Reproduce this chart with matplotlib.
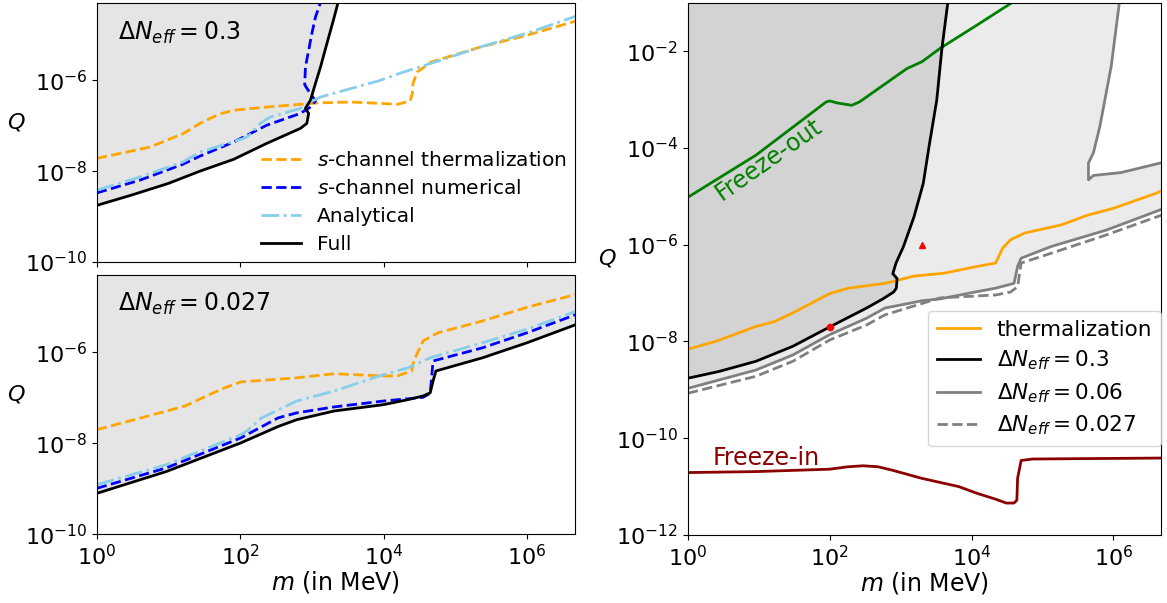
import numpy as np
import matplotlib
matplotlib.use("Agg")
import matplotlib.pyplot as plt
from matplotlib.ticker import LogLocator, NullLocator

# values, as log10(m / MeV) and log10(Q)

# --- top left panel, Delta N_eff = 0.3
tl_full_lm = [0, 0.5, 1.0, 1.44, 1.91, 2.37, 2.84, 2.93, 2.955, 2.91, 2.98, 3.05, 3.12, 3.21, 3.30, 3.38]
tl_full_lq = [-8.755, -8.52, -8.27, -8.0, -7.74, -7.39, -7.06, -6.95, -6.73, -6.62, -6.44, -6.07, -5.71, -5.19, -4.68, -4.2]
tl_num_lm = [0, 0.6, 1.2, 1.44, 1.91, 2.37, 2.84, 3.0, 3.05, 2.98, 2.90, 2.91, 3.0, 3.05, 3.14]
tl_num_lq = [-8.48, -8.2, -7.85, -7.67, -7.36, -6.99, -6.73, -6.57, -6.45, -6.3, -6.1, -5.71, -4.97, -4.61, -4.2]
tl_ana_lm = [0, 0.6, 1.2, 1.44, 2.05, 2.12, 2.28, 2.42, 2.84, 3.03, 3.12, 3.30, 3.96, 4.24, 4.66, 5.35, 6.05, 6.7]
tl_ana_lq = [-8.42, -8.13, -7.8, -7.58, -7.28, -7.22, -6.95, -6.81, -6.62, -6.44, -6.37, -6.29, -6.0, -5.84, -5.63, -5.27, -4.94, -4.58]
tl_th_lm = [0, 0.745, 1.21, 1.44, 1.7, 1.91, 2.37, 2.84, 3.07, 3.54, 3.96, 4.19, 4.37, 4.40, 4.41, 4.47, 4.66, 5.35, 6.0, 6.7]
tl_th_lq = [-7.72, -7.47, -7.17, -6.95, -6.75, -6.66, -6.59, -6.53, -6.50, -6.48, -6.51, -6.53, -6.46, -6.3, -6.07, -5.82, -5.60, -5.27, -5.01, -4.69]

# --- bottom left panel, Delta N_eff = 0.027
bl_full_lm = [0, 0.97, 2.01, 2.27, 2.53, 2.79, 3.31, 4.0, 4.34, 4.55, 4.65, 4.69, 4.73, 5.38, 6.0, 6.7]
bl_full_lq = [-9.10, -8.62, -7.99, -7.81, -7.63, -7.48, -7.29, -7.15, -7.04, -6.96, -6.89, -6.63, -6.41, -6.12, -5.79, -5.38]
bl_num_lm = [0, 0.97, 2.01, 2.27, 2.53, 2.79, 3.31, 4.0, 4.55, 4.65, 4.69, 5.38, 6.0, 6.7]
bl_num_lq = [-8.99, -8.54, -7.88, -7.66, -7.44, -7.33, -7.2, -7.07, -6.99, -6.9, -6.19, -5.90, -5.57, -5.16]
bl_ana_lm = [0, 0.97, 2.01, 2.1, 2.30, 2.79, 3.31, 4.0, 4.34, 4.65, 5.38, 6.0, 6.7]
bl_ana_lq = [-8.91, -8.47, -7.81, -7.72, -7.44, -7.07, -6.85, -6.49, -6.34, -6.12, -5.79, -5.49, -5.09]
bl_th_lm = [0, 0.715, 1.23, 1.49, 1.75, 2.01, 2.79, 3.31, 4.0, 4.19, 4.39, 4.42, 4.55, 4.76, 5.38, 6.0, 6.7]
bl_th_lq = [-7.70, -7.40, -7.18, -6.99, -6.8, -6.65, -6.56, -6.47, -6.52, -6.52, -6.41, -6.19, -5.75, -5.57, -5.31, -5.01, -4.72]

# --- right panel
r_full_lm = [0, 0.44, 0.96, 1.48, 2.0, 2.52, 2.75, 2.9, 2.94, 2.95, 2.89, 2.935, 3.04, 3.19, 3.32, 3.40, 3.51, 3.58, 3.64, 3.67]
r_full_lq = [-8.76, -8.62, -8.41, -8.10, -7.70, -7.31, -7.12, -6.98, -6.9, -6.7, -6.6, -6.38, -6.04, -5.42, -4.73, -3.98, -3.01, -1.98, -1.29, -0.95]
r_th_lm = [0, 0.39, 0.96, 1.22, 1.48, 1.74, 2.0, 2.26, 2.78, 3.19, 3.61, 4.08, 4.34, 4.44, 4.55, 4.75, 5.27, 5.64, 6.0, 6.62, 6.7]
r_th_lq = [-8.16, -8.0, -7.69, -7.59, -7.41, -7.21, -7.01, -6.9, -6.80, -6.65, -6.59, -6.45, -6.38, -6.07, -5.90, -5.76, -5.59, -5.39, -5.25, -4.93, -4.87]
r_n006_lm = [0, 0.96, 1.48, 2.0, 2.52, 2.78, 3.30, 3.56, 4.08, 4.34, 4.60, 4.65, 4.70, 5.12, 5.9, 6.7]
r_n006_lq = [-8.97, -8.59, -8.28, -7.86, -7.52, -7.31, -7.16, -7.12, -6.97, -6.90, -6.80, -6.45, -6.28, -6.04, -5.70, -5.26]
r_n006_up_lm = [6.7, 6.11, 5.72, 5.65, 5.65, 5.72, 5.81, 5.97, 6.09]
r_n006_up_lq = [-4.30, -4.51, -4.57, -4.66, -4.31, -4.10, -3.56, -2.32, -0.95]
r_n0027_lm = [0, 0.96, 1.48, 2.0, 2.52, 2.78, 3.56, 4.34, 4.55, 4.65, 4.70, 5.12, 5.9, 6.7]
r_n0027_lq = [-9.07, -8.72, -8.41, -7.97, -7.66, -7.45, -7.10, -7.04, -6.98, -6.87, -6.38, -6.18, -5.80, -5.38]
r_fo_lm = [0, 0.96, 1.95, 2.0, 2.10, 2.31, 2.42, 3.09, 3.30, 3.56, 4.08, 4.6]
r_fo_lq = [-5.02, -4.15, -3.05, -3.03, -3.07, -3.12, -3.05, -2.36, -2.22, -1.94, -1.46, -0.97]
r_fi_lm = [0, 0.96, 2.0, 2.26, 2.47, 2.68, 2.88, 3.30, 3.82, 4.08, 4.34, 4.49, 4.60, 4.64, 4.65, 4.70, 4.86, 6.7]
r_fi_lq = [-10.71, -10.69, -10.64, -10.59, -10.57, -10.59, -10.66, -10.83, -11.0, -11.14, -11.26, -11.34, -11.34, -11.28, -10.83, -10.46, -10.43, -10.41]
dot_m, dot_q = 100, 2e-8
tri_m, tri_q = 2000, 1e-6

xlim = (1, 4.7e6)
ylim_left = (1e-10, 5e-5)
ylim_right = (1e-12, 1e-1)


def p(lm, lq):
    return 10 ** np.array(lm, dtype=float), 10 ** np.array(lq, dtype=float)


FS = 16
TFS = 17
fig = plt.figure(figsize=(11.67, 6.03), dpi=100)
ax_t = fig.add_axes([0.0829, 0.5655, 0.41, 0.4295])
ax_b = fig.add_axes([0.0829, 0.1139, 0.41, 0.4300])
ax_r = fig.add_axes([0.5895, 0.1128, 0.4053, 0.8827])


def style(ax, ylim, show_x=True):
    ax.set_xscale("log")
    ax.set_yscale("log")
    ax.set_xlim(*xlim)
    ax.set_ylim(*ylim)
    ax.xaxis.set_major_locator(LogLocator(base=100))
    ax.yaxis.set_major_locator(LogLocator(base=100))
    ax.xaxis.set_minor_locator(NullLocator())
    ax.yaxis.set_minor_locator(NullLocator())
    ax.tick_params(labelsize=FS)
    ax.set_ylabel("$Q$", fontsize=FS, rotation=0, labelpad=6)
    if show_x:
        ax.set_xlabel("$m$ (in MeV)", fontsize=FS + 1, labelpad=0)
    else:
        ax.tick_params(labelbottom=False)


# top left
m, q = p(tl_full_lm, tl_full_lq)
ax_t.fill(np.append(m, xlim[0]), np.append(q, ylim_left[1]), color="#e5e5e5", lw=0, zorder=0)
ax_t.plot(*p(tl_th_lm, tl_th_lq), "--", color="orange", lw=2, label="$s$-channel thermalization")
ax_t.plot(*p(tl_num_lm, tl_num_lq), "--", color="blue", lw=2, label="$s$-channel numerical")
ax_t.plot(*p(tl_ana_lm, tl_ana_lq), "-.", color="skyblue", lw=2, label="Analytical")
ax_t.plot(m, q, "-", color="black", lw=2, label="Full")
ax_t.text(0.045, 0.935, r"$\Delta N_{eff} = 0.3$", transform=ax_t.transAxes, fontsize=TFS, va="top")
ax_t.legend(loc="lower right", fontsize=14.5, frameon=False, borderaxespad=0.0, labelspacing=0.45)
style(ax_t, ylim_left, show_x=False)

# bottom left
m, q = p(bl_full_lm, bl_full_lq)
ax_b.fill_between(m, q, ylim_left[1], color="#e5e5e5", lw=0, zorder=0)
ax_b.plot(*p(bl_th_lm, bl_th_lq), "--", color="orange", lw=2)
ax_b.plot(*p(bl_num_lm, bl_num_lq), "--", color="blue", lw=2)
ax_b.plot(*p(bl_ana_lm, bl_ana_lq), "-.", color="skyblue", lw=2)
ax_b.plot(m, q, "-", color="black", lw=2)
ax_b.text(0.045, 0.94, r"$\Delta N_{eff} = 0.027$", transform=ax_b.transAxes, fontsize=TFS, va="top")
style(ax_b, ylim_left)

# right
lo_m, lo_q = p(r_n006_lm, r_n006_lq)
up_m, up_q = p(r_n006_up_lm, r_n006_up_lq)
ax_r.fill(np.concatenate([lo_m, up_m, [xlim[0]]]), np.concatenate([lo_q, up_q, [up_q[-1]]]),
          color="#ebebeb", lw=0, zorder=0)
fm, fq = p(r_full_lm, r_full_lq)
ax_r.fill(np.append(fm, xlim[0]), np.append(fq, fq[-1]), color="#d3d3d3", lw=0, zorder=0)

ax_r.plot(*p(r_fo_lm, r_fo_lq), color="green", lw=2)
ax_r.plot(*p(r_fi_lm, r_fi_lq), color="darkred", lw=2)
ax_r.plot(*p(r_th_lm, r_th_lq), color="orange", lw=2, label="thermalization")
ax_r.plot(fm, fq, color="black", lw=2, label=r"$\Delta N_{eff} = 0.3$")
ax_r.plot(lo_m, lo_q, color="gray", lw=2, label=r"$\Delta N_{eff} = 0.06$")
ax_r.plot(up_m, up_q, color="gray", lw=2)
ax_r.plot(*p(r_n0027_lm, r_n0027_lq), "--", color="gray", lw=2, label=r"$\Delta N_{eff} = 0.027$")
ax_r.plot(dot_m, dot_q, "o", color="red", ms=4.5)
ax_r.plot(tri_m, tri_q, "^", color="red", ms=5)
ax_r.text(14, 5.7e-5, "Freeze-out", color="green", fontsize=TFS, rotation=35, ha="center", va="center")
ax_r.text(2.2, 2.8e-11, "Freeze-in", color="darkred", fontsize=TFS, ha="left", va="baseline")
ax_r.legend(loc="lower right", bbox_to_anchor=(1.0, 0.167), fontsize=15.5, borderaxespad=0.0,
            labelspacing=0.42)
style(ax_r, ylim_right)

fig.savefig("out.png", dpi=100)
